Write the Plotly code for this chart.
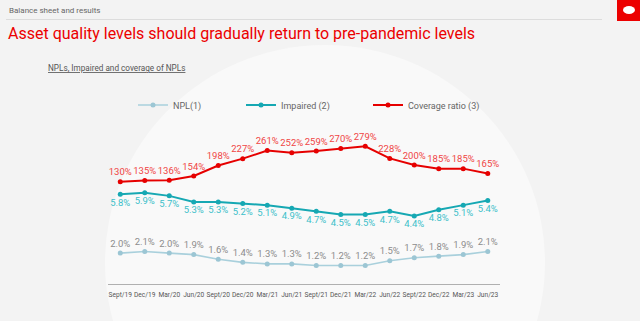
import plotly.graph_objects as go

categories = ["Sept/19", "Dec/19", "Mar/20", "Jun/20", "Sept/20", "Dec/20", "Mar/21", "Jun/21",
              "Sept/21", "Dec/21", "Mar/22", "Jun/22", "Sept/22", "Dec/22", "Mar/23", "Jun/23"]
npl = [2.0, 2.1, 2.0, 1.9, 1.6, 1.4, 1.3, 1.3, 1.2, 1.2, 1.2, 1.5, 1.7, 1.8, 1.9, 2.1]
impaired = [5.8, 5.9, 5.7, 5.3, 5.3, 5.2, 5.1, 4.9, 4.7, 4.5, 4.5, 4.7, 4.4, 4.8, 5.1, 5.4]
coverage = [130, 135, 136, 154, 198, 227, 261, 252, 259, 270, 279, 228, 200, 185, 185, 165]

W, H = 640, 321
L, R, T, B = 108, 500, 100, 284  # plot area in pixels


def px(x):
    return (x - L) / (R - L)


def py(y):
    return (B - y) / (B - T)


FONT = "Roboto"
x_idx = list(range(len(categories)))

fig = go.Figure()
fig.add_trace(go.Scatter(
    x=x_idx, y=npl, name="NPL(1)", mode="lines+markers+text",
    line=dict(color="#a9d0dc", width=1.6), marker=dict(size=5, color="#9cc6d4"),
    text=[f"{v:.1f}%" for v in npl], textposition="top center",
    textfont=dict(family=FONT, size=9.5, color="#8c8c8c"),
    yaxis="y", legend="legend", cliponaxis=False))
fig.add_trace(go.Scatter(
    x=x_idx, y=impaired, name="Impaired (2)", mode="lines+markers+text",
    line=dict(color="#16a8b3", width=2), marker=dict(size=5, color="#16a8b3"),
    text=[f"{v:.1f}%" for v in impaired], textposition="bottom center",
    textfont=dict(family=FONT, size=9.5, color="#3cbfc9"),
    yaxis="y", legend="legend2", cliponaxis=False))
fig.add_trace(go.Scatter(
    x=x_idx, y=coverage, name="Coverage ratio (3)", mode="lines+markers+text",
    line=dict(color="#e60000", width=2), marker=dict(size=5, color="#e60000"),
    text=[f"{v:.0f}%" for v in coverage], textposition="top center",
    textfont=dict(family=FONT, size=9.5, color="#f04545"),
    yaxis="y2", legend="legend3", cliponaxis=False))

leg_common = dict(orientation="h", xanchor="left", yanchor="middle",
                  font=dict(family=FONT, size=9, color="#666666"),
                  bgcolor="rgba(0,0,0,0)", itemwidth=30)

shapes = [
    # soft white background blob
    dict(type="circle", xref="paper", yref="paper", layer="below",
         x0=px(105), x1=px(545), y0=py(480), y1=py(45),
         fillcolor="#f9f9f9", line=dict(width=0)),
    # header separator
    dict(type="line", xref="paper", yref="paper", x0=px(6), x1=px(602), y0=py(19.5), y1=py(19.5),
         line=dict(color="#dcdcdc", width=1)),
    # logo block
    dict(type="rect", xref="paper", yref="paper", x0=px(617), x1=px(641), y0=py(21), y1=py(-1),
         fillcolor="#ec0000", line=dict(width=0)),
    dict(type="circle", xref="paper", yref="paper", x0=px(623), x1=px(635), y0=py(14), y1=py(6),
         fillcolor="white", line=dict(width=0)),
]

annotations = [
    dict(text="Balance sheet and results", xref="paper", yref="paper", x=px(7), y=py(10),
         xanchor="left", yanchor="middle", showarrow=False,
         font=dict(family=FONT, size=8, color="#666666")),
    dict(text="Asset quality levels should gradually return to pre-pandemic levels",
         xref="paper", yref="paper", x=px(6), y=py(33), xanchor="left", yanchor="middle",
         showarrow=False, font=dict(family=FONT, size=16, color="#ec0000")),
    dict(text="<u>NPLs, Impaired and coverage of NPLs</u>", xref="paper", yref="paper",
         x=px(46), y=py(68), xanchor="left", yanchor="middle", showarrow=False,
         font=dict(family=FONT, size=8.2, color="#555555")),
]

fig.update_layout(
    width=W, height=H,
    margin=dict(l=L, r=W - R, t=T, b=H - B, pad=0),
    paper_bgcolor="#f3f3f3", plot_bgcolor="rgba(0,0,0,0)",
    showlegend=True,
    legend=dict(x=px(133), y=py(105), **leg_common),
    legend2=dict(x=px(241), y=py(105), **leg_common),
    legend3=dict(x=px(368), y=py(105), **leg_common),
    xaxis=dict(range=[-0.5, 15.5], tickmode="array", tickvals=x_idx, ticktext=categories,
               tickangle=0, showgrid=False, zeroline=False, showline=True,
               linecolor="#b0b0b0", linewidth=1, ticks="", ticklabelstandoff=4,
               tickfont=dict(family=FONT, size=6.6, color="#555555")),
    yaxis=dict(range=[0, 11.9], visible=False, showgrid=False, zeroline=False),
    yaxis2=dict(range=[-300.5, 473.9], visible=False, overlaying="y", showgrid=False,
                zeroline=False),
    shapes=shapes, annotations=annotations,
)

fig.write_html("out.html")
